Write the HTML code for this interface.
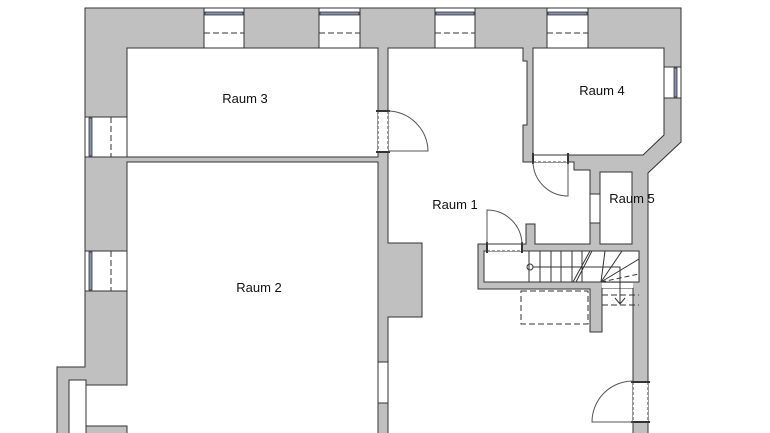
<!DOCTYPE html>
<html><head><meta charset="utf-8"><style>
html,body{margin:0;padding:0;background:#fff;width:770px;height:433px;overflow:hidden}
svg{display:block}
text{font-family:"Liberation Sans",Arial,sans-serif;font-size:13px;fill:#111}
</style></head><body>
<svg width="770" height="433" viewBox="0 0 770 433" xmlns="http://www.w3.org/2000/svg">
<g stroke="#333" stroke-width="1">
<polygon points="85,8 681,8 681,142 648,173 648,440 57,440 57,367 85,367" fill="#c0c0c0"/>
<rect x="127" y="48" width="251" height="109" fill="#fff"/>
<polygon points="127,162 378,162 378,440 127,440 127,426 85,426 85,385 127,385" fill="#fff"/>
<rect x="69" y="380" width="17" height="60" fill="#fff"/>
<polygon points="388,48 523,48 523,61 527,61 527,125 523,125 523,162 574,162 574,170 590,170 590,244 535,244 535,224 526,224 526,244 478,244 478,289 590,289 590,332 602,332 602,288 633,288 633,440 388,440 388,317 422,317 422,243 388,243" fill="#fff"/>
<polygon points="533,48 664,48 664,135 643,155 533,155" fill="#fff"/>
<rect x="600" y="172" width="32" height="72" fill="#fff"/>
<rect x="590" y="194" width="10" height="29" fill="#fff"/>
<rect x="484" y="251" width="155" height="31" fill="#fff"/>
<rect x="602" y="283" width="31" height="5" fill="#fff" stroke="none"/>
<g fill="none">
<line x1="529" y1="251" x2="529" y2="282"/><line x1="540" y1="251" x2="540" y2="282"/>
<line x1="551" y1="251" x2="551" y2="282"/><line x1="561" y1="251" x2="561" y2="282"/>
<line x1="572" y1="251" x2="572" y2="282"/><line x1="582" y1="251" x2="582" y2="282"/>
<line x1="573" y1="282" x2="590" y2="251"/><line x1="576" y1="282" x2="592" y2="251"/>
<line x1="601" y1="282" x2="605" y2="251"/><line x1="601" y1="282" x2="622" y2="251"/>
<line x1="601" y1="282" x2="639" y2="259"/><line x1="601" y1="282" x2="639" y2="274" stroke-dasharray="5,3"/>
<polyline points="533,267 620,267 620,304"/><polyline points="615,298 620,304 625,298"/>
<circle cx="530" cy="267" r="3"/>
<line x1="602" y1="295" x2="639" y2="295" stroke-dasharray="6,3"/>
<line x1="602" y1="305" x2="639" y2="305" stroke-dasharray="6,3"/>
<rect x="521" y="291" width="67" height="33" stroke-dasharray="6,3"/>
</g>
<rect x="378" y="111" width="10" height="41" fill="#fff" stroke="none"/>
<rect x="378" y="362" width="10" height="41" fill="#fff"/>
<rect x="533" y="155.5" width="35" height="6.5" fill="#fff" stroke="none"/>
<rect x="487" y="244.5" width="35" height="6.5" fill="#fff" stroke="none"/>
<rect x="633" y="382" width="15" height="40" fill="#fff" stroke="none"/>
<g fill="none" stroke-dasharray="3,2">
<line x1="378" y1="111" x2="378" y2="152"/><line x1="388" y1="111" x2="388" y2="152"/>
<line x1="533" y1="155" x2="568" y2="155"/><line x1="533" y1="162" x2="568" y2="162"/>
<line x1="487" y1="244" x2="522" y2="244"/><line x1="487" y1="251" x2="522" y2="251"/>
<line x1="633" y1="382" x2="633" y2="422"/><line x1="648" y1="382" x2="648" y2="422"/>
</g>
<g stroke-width="2">
<line x1="376" y1="111" x2="390" y2="111"/><line x1="376" y1="152" x2="390" y2="152"/>
<line x1="533" y1="153" x2="533" y2="164"/><line x1="568" y1="153" x2="568" y2="164"/>
<line x1="487" y1="242" x2="487" y2="253"/><line x1="522" y1="242" x2="522" y2="253"/>
<line x1="631" y1="382" x2="650" y2="382"/><line x1="631" y1="422" x2="650" y2="422"/>
</g>
<g fill="none" stroke="#555">
<path d="M388,111 A41,41 0 0 1 428,151 L388,151"/>
<path d="M533,162 A35,35 0 0 0 568,196 L568,162"/>
<path d="M487,244 L487,210 A35,35 0 0 1 522,244"/>
<path d="M633,422 L592,422 A41,41 0 0 1 633,381"/>
</g>
<g fill="#fff">
<rect x="204" y="8" width="40" height="40"/><rect x="319" y="8" width="41" height="40"/>
<rect x="435" y="8" width="40" height="40"/><rect x="547" y="8" width="41" height="40"/>
<rect x="85" y="117" width="42" height="40"/><rect x="85" y="251" width="42" height="40"/>
<rect x="664" y="67" width="17" height="31"/>
</g>
<g fill="#8890b0" stroke="#333" stroke-width="0.8">
<rect x="205" y="12" width="38" height="3"/><rect x="320" y="12" width="39" height="3"/>
<rect x="436" y="12" width="38" height="3"/><rect x="548" y="12" width="39" height="3"/>
<rect x="89" y="118" width="3" height="38"/><rect x="89" y="252" width="3" height="38"/>
<rect x="674" y="68" width="3" height="29"/>
</g>
<g stroke-dasharray="6,3">
<line x1="204" y1="33" x2="244" y2="33"/><line x1="319" y1="33" x2="360" y2="33"/>
<line x1="435" y1="33" x2="475" y2="33"/><line x1="547" y1="33" x2="588" y2="33"/>
<line x1="111" y1="117" x2="111" y2="157"/><line x1="111" y1="251" x2="111" y2="291"/>
</g>
</g>
<text x="245" y="103" text-anchor="middle">Raum 3</text>
<text x="259" y="292" text-anchor="middle">Raum 2</text>
<text x="455" y="209" text-anchor="middle">Raum 1</text>
<text x="602" y="95" text-anchor="middle">Raum 4</text>
<text x="632" y="203" text-anchor="middle">Raum 5</text>
</svg>
</body></html>
